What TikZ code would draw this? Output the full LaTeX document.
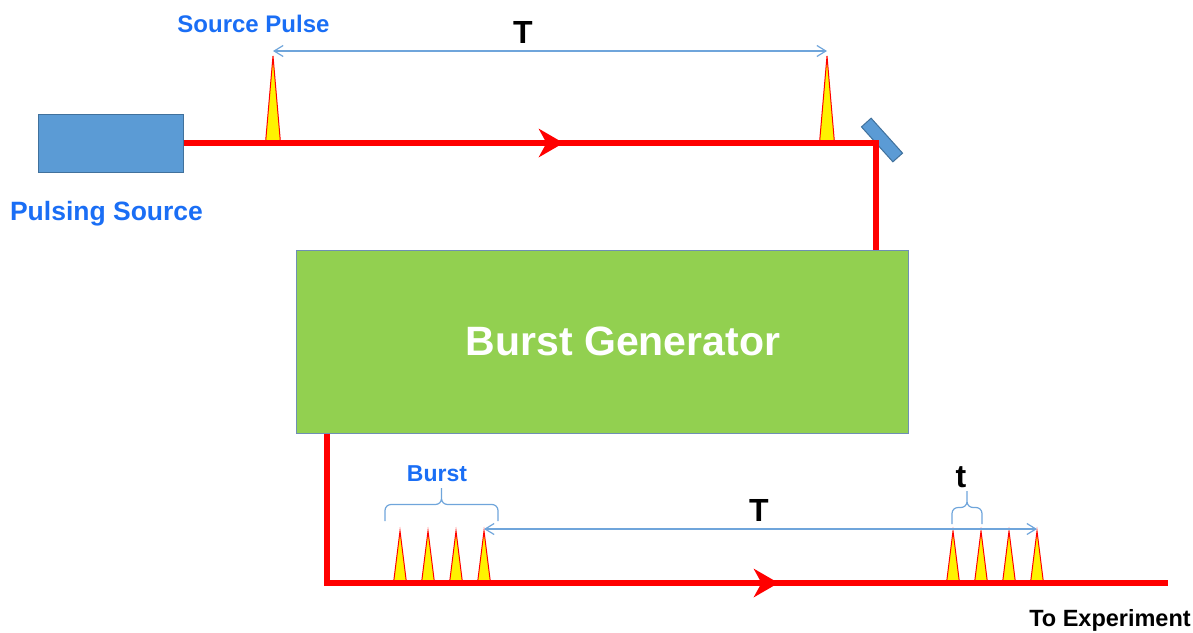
\documentclass[tikz,border=0pt]{standalone}
\usepackage{fontspec}
\setmainfont{Liberation Sans}
\usetikzlibrary{arrows.meta, positioning, decorations.markings}
\definecolor{beamred}{HTML}{FF0000}
\definecolor{boxblue}{HTML}{5B9BD5}
\definecolor{boxedge}{HTML}{41719C}
\definecolor{gengreen}{HTML}{92D050}
\definecolor{genedge}{HTML}{6F8FB4}
\definecolor{labelblue}{HTML}{1A6EF5}
\definecolor{dimblue}{HTML}{6FA5DB}

\begin{document}
\begin{tikzpicture}[x=1pt, y=-1pt,
		beam/.style={beamred, line width=5.5pt},
		pulse/.style={fill=yellow, draw=beamred, line width=1pt},
		dimline/.style={dimblue, line width=1.2pt,
			{Straight Barb[length=9pt,width=11pt]}-{Straight Barb[length=9pt,width=11pt]}},
		curly/.style={dimblue, line width=1.2pt, rounded corners=6pt},
		bluelabel/.style={text=labelblue, anchor=base, font=\bfseries\fontsize{23}{23}\selectfont},
		blacklabel/.style={anchor=base, font=\bfseries\fontsize{32}{32}\selectfont},
		flow/.style={postaction={decorate}, decoration={markings,
			mark=at position #1 with {\arrow{Stealth[length=25pt,width=29pt,inset=8pt,line width=0pt]}}}}]
	\useasboundingbox (0,0) rectangle (1193,632);
	% source, mirror and generator
	\node[draw=boxedge, fill=boxblue, line width=1pt, inner sep=0pt,
		minimum width=145pt, minimum height=58pt] (src) at (110.5,143) {};
	\node[bluelabel, font=\bfseries\fontsize{26.5}{26.5}\selectfont] (srclabel) at (106.5,220) {Pulsing Source};
	\node[draw=boxedge, fill=boxblue, line width=1pt, inner sep=0pt, rotate=-48,
		minimum width=47pt, minimum height=13pt] (mirror) at (882,140) {};
	\node[draw=genedge, fill=gengreen, line width=1pt, inner sep=0pt,
		minimum width=612pt, minimum height=183pt] (gen) at (602,341.5) {};
	\node[text=white, anchor=base, font=\bfseries\fontsize{41}{41}\selectfont] (gentext) at (623,355) {Burst Generator};
	% pulses
	\foreach \px [count=\i] in {273, 827} {
		\draw[pulse] ({\px-7.5},143) -- (\px,56) -- ({\px+7.5},143) -- cycle;
		\coordinate (s\i) at (\px,56);
	}
	\foreach \bx [count=\b] in {400, 953}
		\foreach \k in {0,...,3} {
			\draw[pulse] ({\bx+28*\k-6.5},583) -- ({\bx+28*\k},531) -- ({\bx+28*\k+6.5},583) -- cycle;
			\coordinate (b\b-\k) at ({\bx+28*\k},531);
		}
	% beam path
	\coordinate (bend) at (876,143);
	\coordinate (corner) at (327,583);
	\coordinate (out) at (1168,583);
	\draw[beam, flow=380pt] (src.east) -- (bend) -- (bend |- gen.north);
	\draw[beam, flow=601pt] (corner |- gen.south) -- (corner) -- (out);
	% periods
	\draw[dimline] ([yshift=5pt]s1) -- ([yshift=5pt]s2);
	\node[blacklabel] (Ttop) at (523,43) {T};
	\node[bluelabel, font=\bfseries\fontsize{24}{24}\selectfont] (pulselabel) at (253.5,32) {Source Pulse};
	\draw[dimline] ([yshift=2pt]b1-3) -- ([yshift=2pt]b2-3);
	\node[blacklabel] (Tbottom) at (759,521) {T};
	\foreach \bl/\br/\by/\bt in {385/498/521/488, 952/982/524/491}
		\draw[curly] (\bl,\by) -- (\bl,{(\by+\bt)/2}) -- ({(\bl+\br)/2},{(\by+\bt)/2}) -- ({(\bl+\br)/2},\bt)
			(\br,\by) -- (\br,{(\by+\bt)/2}) -- ({(\bl+\br)/2},{(\by+\bt)/2}) -- ({(\bl+\br)/2},\bt);
	\node[bluelabel] (burstlabel) at (437,481) {Burst};
	\node[blacklabel] (tlabel) at (961,487) {t};
	\node[anchor=base, font=\bfseries\fontsize{23.5}{23.5}\selectfont] (explabel) at (1110,626) {To Experiment};
\end{tikzpicture}
\end{document}
